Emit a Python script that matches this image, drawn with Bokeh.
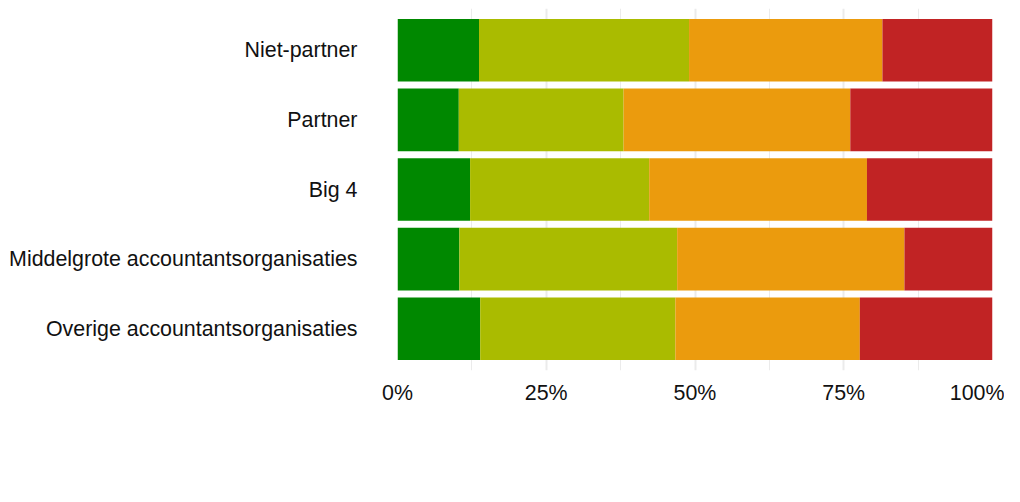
from bokeh.plotting import figure
from bokeh.models import ColumnDataSource, FactorRange, Range1d, FixedTicker, Legend, NumeralTickFormatter
from bokeh.embed import file_html
from bokeh.resources import INLINE

categories = ["Niet-partner", "Partner", "Big 4",
              "Middelgrote accountantsorganisaties", "Overige accountantsorganisaties"]
score_1 = [0.137, 0.103, 0.122, 0.104, 0.139]
score_2 = [0.353, 0.277, 0.301, 0.366, 0.328]
score_3 = [0.325, 0.381, 0.366, 0.382, 0.310]
score_4 = [0.185, 0.239, 0.211, 0.148, 0.223]
series_names = ["1", "2", "3", "4"]
colors = ["#008800", "#AABB00", "#EB9B0D", "#C12324"]
x_ticks = [0, 0.25, 0.5, 0.75, 1.0]
x_minor = [0.125, 0.375, 0.625, 0.875]

source = ColumnDataSource(dict(cat=categories, s1=score_1, s2=score_2, s3=score_3, s4=score_4))

y_range = FactorRange(factors=categories[::-1], range_padding=0.1, range_padding_units="absolute")

p = figure(width=1004, height=494, frame_width=595, frame_height=362,
           y_range=y_range, x_range=Range1d(0, 1),
           output_backend="svg", toolbar_location=None,
           min_border_left=397, min_border_right=12, min_border_top=8, min_border_bottom=0)

p.outline_line_color = None
p.background_fill_color = "white"
p.border_fill_color = "white"

renderers = p.hbar_stack(["s1", "s2", "s3", "s4"], y="cat", height=0.9, color=colors,
                         line_color=None, source=source)

p.xaxis.ticker = FixedTicker(ticks=x_ticks, minor_ticks=x_minor)
p.xaxis.formatter = NumeralTickFormatter(format="0%")
p.xgrid.ticker = FixedTicker(ticks=x_ticks, minor_ticks=x_minor)
p.xgrid.grid_line_color = "#EBEBEB"
p.xgrid.grid_line_width = 2
p.xgrid.minor_grid_line_color = "#EBEBEB"
p.xgrid.minor_grid_line_width = 1
p.ygrid.grid_line_color = None

for ax in (p.xaxis, p.yaxis):
    ax.axis_line_color = None
    ax.major_tick_line_color = None
    ax.minor_tick_line_color = None
    ax.major_tick_out = 0
    ax.minor_tick_out = 0
    ax.major_label_text_font = "Liberation Sans"
    ax.major_label_text_font_size = "21.4px"
    ax.major_label_text_color = "#111111"

p.yaxis.major_label_standoff = 40
p.xaxis.major_label_standoff = 10

legend = Legend(items=[(n, [r]) for n, r in zip(series_names, renderers)],
                orientation="horizontal", location="top_center",
                title=" ", title_location="right", title_standoff=53,
                title_text_font_size="10px",
                glyph_width=52, glyph_height=36, label_standoff=5, spacing=10,
                label_width=0, label_height=0, label_text_font="Liberation Sans",
                label_text_font_size="17px", label_text_baseline="top",
                label_text_color="#111111", margin=53, padding=0,
                border_line_color=None, background_fill_alpha=0)
p.add_layout(legend, "below")

open("out.html", "w").write(file_html(p, INLINE))
